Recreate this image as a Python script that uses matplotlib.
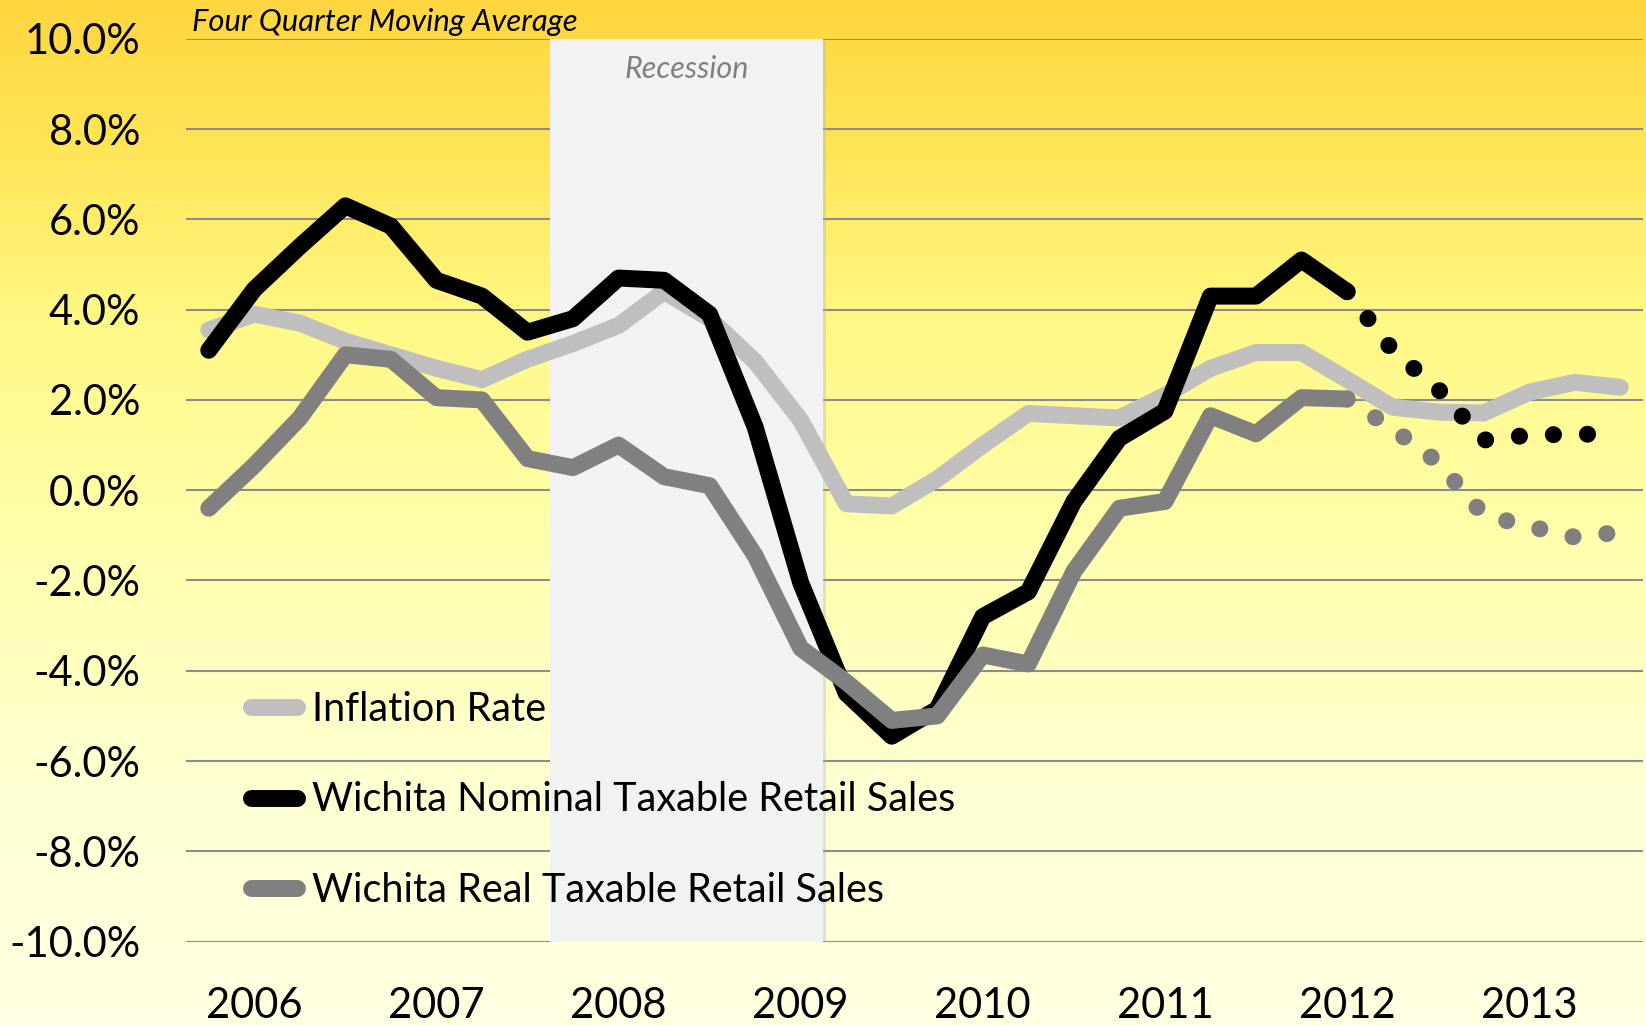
import numpy as np
import matplotlib
matplotlib.use("Agg")
import matplotlib.pyplot as plt
from matplotlib.colors import LinearSegmentedColormap
from matplotlib import patheffects as pe

# ---------------- data ----------------
years = ["2006", "2007", "2008", "2009", "2010", "2011", "2012", "2013"]
year_tick_idx = [1, 5, 9, 13, 17, 21, 25, 29]

inflation = [3.55, 3.9, 3.7, 3.3, 3.0, 2.7, 2.45, 2.9, 3.25, 3.65, 4.4, 3.8,
             2.85, 1.55, -0.3, -0.35, 0.25, 1.0, 1.7, 1.65, 1.6, 2.1, 2.7, 3.05,
             3.05, 2.45, 1.84, 1.73, 1.71, 2.17, 2.39, 2.28]
nominal = [3.1, 4.45, 5.4, 6.3, 5.85, 4.65, 4.3, 3.5, 3.8, 4.7, 4.65, 3.9,
           1.4, -2.05, -4.5, -5.45, -4.85, -2.8, -2.25, -0.25, 1.15, 1.75, 4.3, 4.3,
           5.1, 4.4]
nominal_fcst = [4.4, 3.1, 2.24, 1.11, 1.22, 1.24, 1.24]   # quarters 25..31
real = [-0.4, 0.55, 1.6, 3.0, 2.9, 2.05, 2.0, 0.7, 0.5, 1.0, 0.3, 0.1,
        -1.45, -3.5, -4.25, -5.1, -5.0, -3.65, -3.85, -1.8, -0.4, -0.25, 1.65, 1.25,
        2.05, 2.02]
real_fcst = [2.02, 1.36, 0.62, -0.55, -0.8, -1.04, -0.93]  # quarters 25..31
recession = (7.5, 13.5)

labels = ["Inflation Rate", "Wichita Nominal Taxable Retail Sales",
          "Wichita Real Taxable Retail Sales"]

FONT = "Lato"
W, H = 1646, 1025
fig = plt.figure(figsize=(W / 100, H / 100), dpi=100)

# background gradient
bg = fig.add_axes([0, 0, 1, 1], zorder=-10)
stops = [(0.0, (255, 214, 64)), (0.15, (255, 230, 88)), (0.32, (255, 249, 135)),
         (0.55, (255, 255, 176)), (0.78, (255, 255, 212)), (1.0, (255, 255, 226))]
cmap = LinearSegmentedColormap.from_list(
    "bg", [(t, tuple(c / 255 for c in col)) for t, col in stops])
grad = np.linspace(0, 1, 512).reshape(-1, 1)
bg.imshow(grad, aspect="auto", cmap=cmap, extent=[0, 1, 0, 1], origin="upper")
bg.set_axis_off()

left, right = 186 / W, 1643 / W
bottom, top = (H - 941.6) / H, (H - 38.8) / H
ax = fig.add_axes([left, bottom, right - left, top - bottom])
ax.set_facecolor("none")

x_all = np.arange(len(inflation))
x_hist = np.arange(len(nominal))
x_fc = np.arange(len(nominal) - 1, len(nominal) - 1 + len(nominal_fcst))

lw = 12.2
span = ax.axvspan(recession[0], recession[1], facecolor="#F2F2F2", edgecolor="none",
                  zorder=1)
span.set_path_effects([pe.withSimplePatchShadow(offset=(1.5, -1.5), shadow_rgbFace="#B0B0B0",
                                                alpha=0.35)])
ax.text(sum(recession) / 2, 9.33, "Recession", ha="center", va="center",
        fontsize=22, style="italic", color="#808080", family=FONT, zorder=2)

l_inf, = ax.plot(x_all, inflation, color="#BFBFBF", lw=lw, solid_capstyle="round",
                 solid_joinstyle="round", zorder=3)
l_nom, = ax.plot(x_hist, nominal, color="#000000", lw=lw, solid_capstyle="round",
                 solid_joinstyle="round", zorder=4)
l_real, = ax.plot(x_hist, real, color="#808080", lw=lw, solid_capstyle="round",
                  solid_joinstyle="round", zorder=5)
ax.plot(x_fc, nominal_fcst, color="#000000", lw=lw, linestyle=(0, (0.01, 2.0)),
        dash_capstyle="round", zorder=6)
ax.plot(x_fc, real_fcst, color="#808080", lw=lw, linestyle=(0, (0.01, 2.0)),
        dash_capstyle="round", zorder=6)

ax.set_xlim(-0.5, 31.5)
ax.set_ylim(-10, 10)
yt = np.arange(-10, 10.1, 2)
ax.set_yticks(yt)
ax.set_yticklabels([f"{v:.1f}%" for v in yt])
ax.set_xticks(year_tick_idx)
ax.set_xticklabels(years)
ax.set_axisbelow(True)
ax.grid(axis="y", color="#8C8C8C", lw=1.5, zorder=0.5)
ax.grid(axis="x", visible=False)
for s in ax.spines.values():
    s.set_visible(False)
ax.tick_params(axis="y", length=0, pad=33, labelsize=30)
ax.tick_params(axis="x", length=0, pad=33, labelsize=30)
for t in ax.get_xticklabels() + ax.get_yticklabels():
    t.set_family(FONT)

leg = ax.legend([l_inf, l_nom, l_real], labels, loc="upper left",
                bbox_to_anchor=(251 / W, (H - 691) / H), bbox_transform=fig.transFigure,
                frameon=False, handlelength=1.16, handletextpad=0.38, labelspacing=1.35,
                borderaxespad=0, borderpad=0,
                prop={"family": FONT, "size": 28.5})
leg.set_zorder(7)

fig.text(192 / W, (H - 30.5) / H, "Four Quarter Moving Average", ha="left", va="baseline",
         fontsize=22.3, style="italic", family=FONT)

fig.savefig("out.png", dpi=100)
